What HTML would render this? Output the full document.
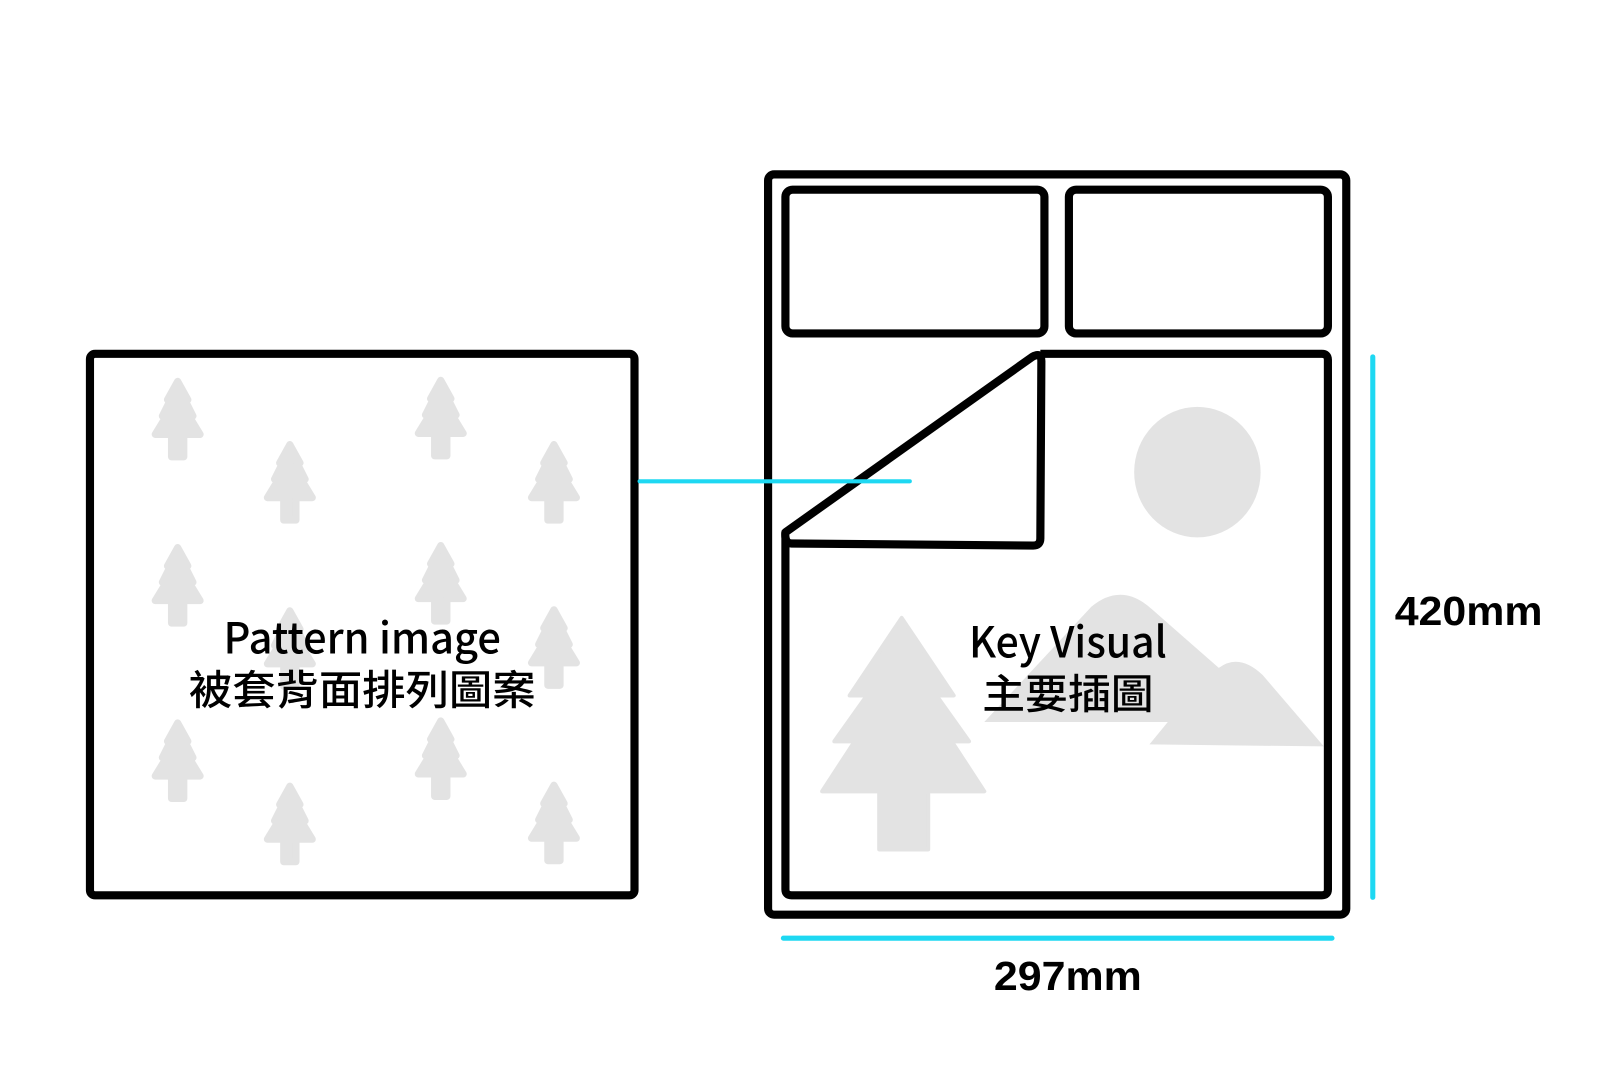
<!DOCTYPE html>
<html><head><meta charset="utf-8"><style>html,body{margin:0;padding:0;background:#fff}svg{display:block}</style></head>
<body>
<svg width="1600" height="1091" viewBox="0 0 1568.6 1069.9" xmlns="http://www.w3.org/2000/svg">
<defs>
<g id="t">
<polygon points="0,-38 10,-20 7,-20 15,-4 11,-4 22,14 6,14 6,36 -6,36 -6,14 -22,14 -11,-4 -15,-4 -7,-20 -10,-20" fill="#e3e3e3" stroke="#e3e3e3" stroke-width="7" stroke-linejoin="round"/>
</g>
</defs>
<rect width="1570" height="1070" fill="#fff"/>
<g>
<use href="#t" x="174" y="412"/><use href="#t" x="284" y="474"/><use href="#t" x="432" y="411"/><use href="#t" x="543" y="474"/>
<use href="#t" x="174" y="575"/><use href="#t" x="432" y="573"/><use href="#t" x="284" y="637"/><use href="#t" x="543" y="636"/>
<use href="#t" x="174" y="747"/><use href="#t" x="432" y="745"/><use href="#t" x="284" y="809"/><use href="#t" x="543" y="808"/>
</g>
<rect x="88" y="347" width="534" height="531" rx="5" fill="none" stroke="#000" stroke-width="8"/>
<ellipse cx="1174" cy="463" rx="62" ry="64" fill="#e3e3e3"/>
<path d="M965,708 L1070,595 Q1100,570 1130,598 L1195,655 Q1215,640 1238,662 L1298,732 L1127,730 L1145,708 Z" fill="#e3e3e3"/>
<polygon points="884,606 935,682 918,682 950,727 933,727 965,776 910,776 910,833 862,833 862,776 806,776 838,727 818,727 850,682 833,682" fill="#e3e3e3" stroke="#e3e3e3" stroke-width="4" stroke-linejoin="round"/>
<rect x="753" y="171" width="567" height="726" rx="6" fill="none" stroke="#000" stroke-width="8"/>
<rect x="770" y="186" width="254" height="141" rx="7" fill="none" stroke="#000" stroke-width="8"/>
<rect x="1048" y="186" width="254" height="141" rx="7" fill="none" stroke="#000" stroke-width="8"/>
<path d="M1020,347 L1296,347 Q1302,347 1302,353 L1302,872 Q1302,878 1296,878 L776,878 Q770,878 770,872 L770,522" fill="none" stroke="#000" stroke-width="8" stroke-linejoin="round"/>
<path d="M770,522 L1012,350 Q1021,345 1021,354 L1020,528 Q1020,535 1013,535 L776,533 Q769,533 770,522 Z" fill="#fff" stroke="#000" stroke-width="8" stroke-linejoin="round"/>
<line x1="627" y1="472" x2="892" y2="472" stroke="#1ed8f2" stroke-width="4" stroke-linecap="round"/>
<line x1="1346" y1="350" x2="1346" y2="880" stroke="#1ed8f2" stroke-width="5" stroke-linecap="round"/>
<line x1="768" y1="920" x2="1306" y2="920" stroke="#1ed8f2" stroke-width="5" stroke-linecap="round"/>
<g font-family="'Noto Sans CJK TC','Liberation Sans',sans-serif" font-weight="500" fill="#000" text-anchor="middle">
<text x="355" y="641" font-size="42" textLength="272" lengthAdjust="spacingAndGlyphs">Pattern image</text>
<text x="355" y="691" font-size="40" textLength="340" lengthAdjust="spacingAndGlyphs">被套背面排列圖案</text>
<text x="1047" y="645" font-size="42" textLength="194" lengthAdjust="spacingAndGlyphs">Key Visual</text>
<text x="1047" y="695" font-size="40" textLength="168" lengthAdjust="spacingAndGlyphs">主要插圖</text>
</g>
<g font-family="'Liberation Sans',sans-serif" font-weight="bold" font-size="40" fill="#000" text-anchor="middle">
<text x="1440" y="613" textLength="145" lengthAdjust="spacingAndGlyphs">420mm</text>
<text x="1047" y="971" textLength="145" lengthAdjust="spacingAndGlyphs">297mm</text>
</g>
</svg>
</body></html>
